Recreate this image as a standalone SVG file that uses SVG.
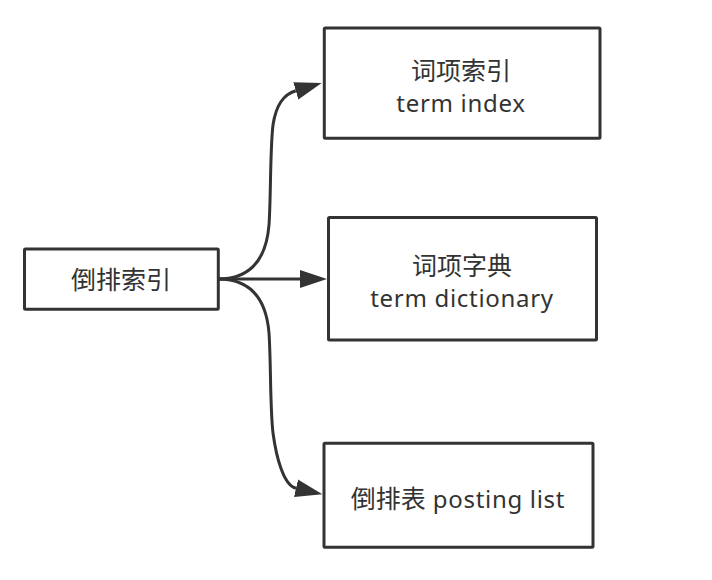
<svg xmlns="http://www.w3.org/2000/svg" width="712" height="580" viewBox="0 0 712 580">
<style>
.box{fill:#fff;stroke:#333;stroke-width:3}
.t{font-family:"Noto Sans","Noto Sans CJK SC",sans-serif;font-size:24px;fill:#333;text-anchor:middle}
.cjk{font-family:"Noto Sans CJK SC","Noto Sans",sans-serif;font-size:25px;fill:#333;text-anchor:middle}
.lat{letter-spacing:0.7px}
.edge{fill:none;stroke:#333;stroke-width:3}
</style>
<defs>
<marker id="arr" markerUnits="userSpaceOnUse" markerWidth="28" markerHeight="19" refX="0" refY="9" orient="auto" viewBox="0 0 28 18">
<path d="M0,0 L27,9 L0,18 z" fill="#333"/>
</marker>
</defs>
<rect width="712" height="580" fill="#fff"/>
<g id="connectors">
<path class="edge" marker-end="url(#arr)" d="M218,279 C248,279 266,262 269,225 C271,195 270,150 273,125 C276,105 283,94.6 295.8,90.8"/>
<path class="edge" marker-end="url(#arr)" d="M218,279 L300,279"/>
<path class="edge" marker-end="url(#arr)" d="M218,279 C248,279 266,296 269,333 C271,363 270,408 273,433 C276,455 283,485.4 296,488.3"/>
</g>
<g id="inverted-index">
<rect class="box" x="24.5" y="249" width="193.8" height="60.3" rx="1"/>
<text class="cjk" x="121" y="289">倒排索引</text>
</g>
<g id="term-index">
<rect class="box" x="324.3" y="28" width="275.7" height="110.3" rx="1"/>
<text class="cjk" x="461" y="79.5">词项索引</text>
<text class="t lat" x="461" y="111.5">term index</text>
</g>
<g id="term-dictionary">
<rect class="box" x="328.5" y="217.5" width="268" height="122.5" rx="1"/>
<text class="cjk" x="462" y="274.5">词项字典</text>
<text class="t lat" x="462" y="306.5">term dictionary</text>
</g>
<g id="posting-list">
<rect class="box" x="324" y="443.3" width="269" height="104" rx="1"/>
<text class="t" x="458" y="508"><tspan font-size="25px" font-family="'Noto Sans CJK SC',sans-serif">倒排表</tspan><tspan class="lat"> posting list</tspan></text>
</g>
</svg>
